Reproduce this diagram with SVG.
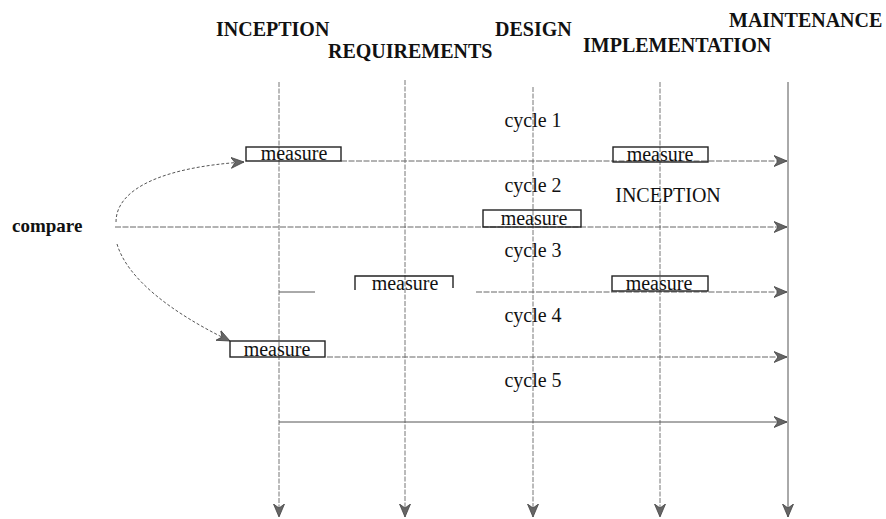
<svg xmlns="http://www.w3.org/2000/svg" width="886" height="519" viewBox="0 0 886 519" font-family="'Liberation Serif', 'DejaVu Serif', serif">
<style>
text{font-family:"Liberation Serif","DejaVu Serif",serif;fill:#111}
.hdr{font-size:20px;font-weight:bold}
.cyc{font-size:20px;text-anchor:middle}
.msr{font-size:20px;text-anchor:middle}
.box{fill:none;stroke:#222;stroke-width:1.4}
.v{stroke:#777;stroke-width:1;stroke-dasharray:5 1.5;fill:none}
.h{stroke:#666;stroke-width:1;stroke-dasharray:6 1.5;fill:none}
.hs{stroke:#555;stroke-width:1;fill:none}
.cv{stroke:#555;stroke-width:1;stroke-dasharray:3 2;fill:none}
</style>
<defs>
<marker id="ah" markerUnits="userSpaceOnUse" markerWidth="14" markerHeight="12" viewBox="0 0 14 12" refX="13" refY="6" orient="auto">
<path d="M0,0.5 L13,6 L0,11.5 L4,6 z" fill="#666" stroke="#444" stroke-width="0.8"/>
</marker>
</defs>
<rect width="886" height="519" fill="#fff"/>

<g id="connectors">
<line class="v" x1="279" y1="82" x2="279" y2="517" marker-end="url(#ah)"/>
<line class="v" x1="405" y1="80" x2="405" y2="517" marker-end="url(#ah)"/>
<line class="v" x1="533" y1="87" x2="533" y2="517" marker-end="url(#ah)"/>
<line class="v" x1="660" y1="82" x2="660" y2="517" marker-end="url(#ah)"/>
<line class="hs" x1="788" y1="82" x2="788" y2="517" marker-end="url(#ah)"/>
<line class="h" x1="341" y1="161" x2="787" y2="161" marker-end="url(#ah)"/>
<line class="h" x1="115" y1="227" x2="787" y2="227" marker-end="url(#ah)"/>
<line class="hs" x1="279" y1="292" x2="315" y2="292"/>
<line class="h" x1="476" y1="292" x2="787" y2="292" marker-end="url(#ah)"/>
<line class="h" x1="327" y1="357" x2="787" y2="357" marker-end="url(#ah)"/>
<line class="hs" x1="279" y1="422" x2="787" y2="422" marker-end="url(#ah)"/>
<path class="cv" d="M116,222 C116,188 165,167 244,162" marker-end="url(#ah)"/>
<path class="cv" d="M117,244 C127,278 170,312 230,341" marker-end="url(#ah)"/>
</g>

<g id="phase-inception"><text class="hdr" x="216" y="36">INCEPTION</text></g>
<g id="phase-requirements"><text class="hdr" x="328" y="58">REQUIREMENTS</text></g>
<g id="phase-design"><text class="hdr" x="495" y="36">DESIGN</text></g>
<g id="phase-implementation"><text class="hdr" x="583" y="52">IMPLEMENTATION</text></g>
<g id="phase-maintenance"><text class="hdr" x="729" y="27">MAINTENANCE</text></g>

<g id="compare"><text class="hdr" x="12" y="232" style="font-size:19px">compare</text></g>

<g id="cycle-1"><text class="cyc" x="533" y="127">cycle 1</text></g>
<g id="cycle-2"><text class="cyc" x="533" y="192">cycle 2</text></g>
<g id="cycle-3"><text class="cyc" x="533" y="257">cycle 3</text></g>
<g id="cycle-4"><text class="cyc" x="533" y="322">cycle 4</text></g>
<g id="cycle-5"><text class="cyc" x="533" y="387">cycle 5</text></g>

<g id="inception-label"><text x="668" y="202" style="font-size:20px;text-anchor:middle">INCEPTION</text></g>

<g id="measure-1a"><rect class="box" x="246" y="147" width="95" height="14"/><text class="msr" x="294" y="160">measure</text></g>
<g id="measure-1b"><rect class="box" x="613" y="147" width="95" height="15"/><text class="msr" x="660" y="161">measure</text></g>
<g id="measure-2"><rect class="box" x="483" y="210" width="98" height="17"/><text class="msr" x="534" y="225">measure</text></g>
<g id="measure-3a"><path class="box" d="M355,290 L355,276 L453,276 L453,288"/><text class="msr" x="405" y="290">measure</text></g>
<g id="measure-3b"><rect class="box" x="612" y="276" width="96" height="15"/><text class="msr" x="659" y="290">measure</text></g>
<g id="measure-4"><rect class="box" x="230" y="341" width="95" height="16"/><text class="msr" x="277" y="356">measure</text></g>
</svg>
